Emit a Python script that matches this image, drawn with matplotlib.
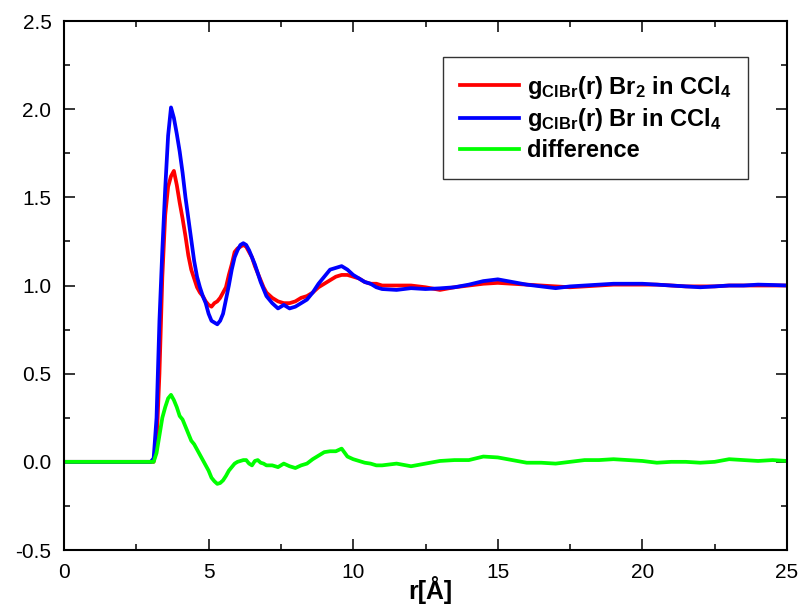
import matplotlib
matplotlib.use("Agg")
import matplotlib.pyplot as plt
from matplotlib.ticker import MultipleLocator, FormatStrFormatter

plt.rcParams['font.family'] = ['Liberation Sans', 'DejaVu Sans']
plt.rcParams['mathtext.fontset'] = 'custom'
plt.rcParams['mathtext.bf'] = 'Liberation Sans:bold'
plt.rcParams['mathtext.rm'] = 'Liberation Sans:bold'
plt.rcParams['mathtext.default'] = 'bf'
plt.rcParams['axes.unicode_minus'] = False

# radial distance grid (Angstrom)
r = [0.0, 3.0, 3.1, 3.2, 3.3, 3.4, 3.5, 3.6, 3.7, 3.8, 3.9, 4.0, 4.1, 4.2, 4.3,
     4.4, 4.5, 4.6, 4.7, 4.8, 4.9, 5.0, 5.1, 5.2, 5.3, 5.4, 5.5, 5.6, 5.7, 5.8,
     5.9, 6.0, 6.1, 6.2, 6.3, 6.4, 6.5, 6.6, 6.7, 6.8, 6.9, 7.0, 7.2, 7.4, 7.6,
     7.8, 8.0, 8.2, 8.4, 8.6, 8.8, 9.0, 9.2, 9.4, 9.6, 9.8, 10.0, 10.2, 10.4,
     10.6, 10.8, 11.0, 11.5, 12.0, 12.5, 13.0, 13.5, 14.0, 14.5, 15.0, 15.5,
     16.0, 16.5, 17.0, 17.5, 18.0, 18.5, 19.0, 19.5, 20.0, 20.5, 21.0, 21.5,
     22.0, 22.5, 23.0, 23.5, 24.0, 24.5, 25.0]

# g_ClBr(r), Br2 in CCl4
g_br2 = [0.0, 0.0, 0.0, 0.1, 0.5, 1.05, 1.4, 1.56, 1.62, 1.65, 1.57, 1.47, 1.38,
         1.28, 1.17, 1.09, 1.04, 0.99, 0.96, 0.94, 0.91, 0.89, 0.88, 0.9, 0.91,
         0.93, 0.96, 0.99, 1.06, 1.12, 1.19, 1.21, 1.22, 1.23, 1.22, 1.19, 1.16,
         1.11, 1.07, 1.03, 0.99, 0.96, 0.93, 0.91, 0.90, 0.90, 0.91, 0.93, 0.94,
         0.96, 0.99, 1.01, 1.03, 1.05, 1.06, 1.06, 1.05, 1.04, 1.02, 1.01, 1.01,
         1.00, 1.00, 1.00, 0.99, 0.975, 0.99, 1.0, 1.01, 1.015, 1.01, 1.005, 1.0,
         0.995, 0.99, 0.995, 1.0, 1.005, 1.005, 1.005, 1.005, 1.0, 0.995, 0.995,
         0.995, 1.0, 1.0, 1.0, 1.0, 1.0]

# g_ClBr(r), Br in CCl4
g_br = [0.0, 0.0, 0.02, 0.25, 0.8, 1.2, 1.55, 1.85, 2.01, 1.95, 1.86, 1.76, 1.64,
        1.50, 1.38, 1.26, 1.14, 1.05, 0.99, 0.94, 0.9, 0.84, 0.8, 0.79, 0.78,
        0.8, 0.84, 0.92, 1.0, 1.09, 1.16, 1.2, 1.23, 1.24, 1.23, 1.2, 1.16, 1.12,
        1.07, 1.02, 0.98, 0.94, 0.9, 0.87, 0.89, 0.87, 0.88, 0.9, 0.92, 0.96,
        1.01, 1.05, 1.09, 1.1, 1.11, 1.09, 1.06, 1.04, 1.02, 1.01, 0.99, 0.98,
        0.975, 0.985, 0.98, 0.984, 0.99, 1.005, 1.025, 1.035, 1.02, 1.005, 0.995,
        0.985, 0.995, 1.0, 1.005, 1.01, 1.01, 1.01, 1.005, 1.0, 0.995, 0.99,
        0.995, 1.0, 1.0, 1.005, 1.003, 1.0]

# difference curve
g_diff = [0.0, 0.0, 0.0, 0.05, 0.15, 0.25, 0.31, 0.36, 0.38, 0.35, 0.31, 0.26,
          0.24, 0.2, 0.16, 0.12, 0.1, 0.07, 0.04, 0.01, -0.02, -0.05, -0.09,
          -0.11, -0.125, -0.12, -0.105, -0.08, -0.05, -0.03, -0.01, 0.0, 0.005,
          0.01, 0.01, -0.01, -0.02, 0.005, 0.01, -0.005, -0.01, -0.02, -0.02,
          -0.03, -0.01, -0.025, -0.035, -0.02, -0.01, 0.015, 0.035, 0.055, 0.06,
          0.06, 0.075, 0.03, 0.015, 0.005, -0.005, -0.01, -0.02, -0.02, -0.01,
          -0.025, -0.01, 0.005, 0.01, 0.01, 0.03, 0.025, 0.01, -0.005, -0.005,
          -0.01, 0.0, 0.01, 0.01, 0.015, 0.01, 0.005, -0.005, 0.0, 0.0, -0.005,
          0.0, 0.015, 0.01, 0.005, 0.01, 0.005]

labels = ['g$_{ClBr}$(r) Br$_2$ in CCl$_4$',
          'g$_{ClBr}$(r) Br in CCl$_4$',
          'difference']

fig = plt.figure(figsize=(8.02, 6.04), dpi=100)
ax = fig.add_axes([0.0798, 0.0894, 0.9015, 0.8758])

ax.plot(r, g_br2, color='#ff0000', lw=2.7, label=labels[0])
ax.plot(r, g_br, color='#0000ff', lw=2.7, label=labels[1])
ax.plot(r, g_diff, color='#00ff00', lw=2.7, label=labels[2])

ax.set_xlim(0, 25)
ax.set_ylim(-0.5, 2.5)
ax.xaxis.set_major_locator(MultipleLocator(5))
ax.xaxis.set_minor_locator(MultipleLocator(2.5))
ax.yaxis.set_major_locator(MultipleLocator(0.5))
ax.yaxis.set_minor_locator(MultipleLocator(0.25))
ax.yaxis.set_major_formatter(FormatStrFormatter('%.1f'))

for s in ax.spines.values():
    s.set_linewidth(1.5)
ax.tick_params(which='both', direction='in', top=True, right=True, width=1.1)
ax.tick_params(which='major', length=8, labelsize=15, pad=9)
ax.tick_params(which='minor', length=4.5)

ax.set_xlabel('r[Å]', fontsize=18, fontweight='bold')
ax.xaxis.set_label_coords(0.506, -0.05)

leg = ax.legend(loc='upper right', bbox_to_anchor=(0.946, 0.932),
                borderaxespad=0, fancybox=False, framealpha=1,
                edgecolor='#333333', handlelength=2.5, handletextpad=0.35,
                labelspacing=0.25, borderpad=0.7,
                prop={'weight': 'bold', 'size': 17})
leg.get_frame().set_linewidth(1.0)

fig.savefig('out.png', dpi=100)
